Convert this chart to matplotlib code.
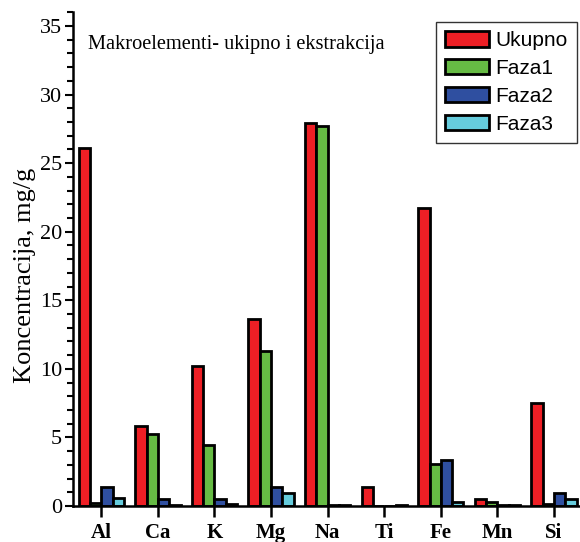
import numpy as np
import matplotlib
matplotlib.use("Agg")
import matplotlib.pyplot as plt
from matplotlib.ticker import MultipleLocator

# concentrations, mg/g
elements = ["Al", "Ca", "K", "Mg", "Na", "Ti", "Fe", "Mn", "Si"]
ukupno = [26.1, 5.8, 10.2, 13.6, 27.9, 1.36, 21.7, 0.49, 7.5]
faza1 = [0.2, 5.23, 4.47, 11.3, 27.7, 0.0, 3.09, 0.32, 0.15]
faza2 = [1.41, 0.49, 0.49, 1.41, 0.05, 0.0, 3.33, 0.05, 0.97]
faza3 = [0.56, 0.05, 0.15, 0.92, 0.05, 0.05, 0.32, 0.05, 0.49]

series = [("Ukupno", ukupno, "#ee1f25"),
          ("Faza1", faza1, "#66bb44"),
          ("Faza2", faza2, "#2f4fa0"),
          ("Faza3", faza3, "#66ccdd")]

W, H = 580, 542
fig = plt.figure(figsize=(W / 100, H / 100), dpi=100)
ax = fig.add_axes([73 / W, 36 / H, (582.3 - 73) / W, (506 - 12.3) / H])

x = np.arange(len(elements))
bw = 0.2
for i, (name, vals, col) in enumerate(series):
    ax.bar(x + (i - 1.5) * bw, vals, bw, color=col, edgecolor="black",
           linewidth=2.0, label=name)

ax.set_xlim(-0.5, 8.5)
ax.set_ylim(0, 36)
ax.yaxis.set_major_locator(MultipleLocator(5))
ax.yaxis.set_minor_locator(MultipleLocator(1))
ax.set_xticks(x)
ax.set_xticklabels(elements, fontfamily="Liberation Serif", fontweight="bold",
                   fontsize=15)
for lab in ax.get_yticklabels():
    lab.set_fontfamily("Liberation Serif")
    lab.set_fontsize(16)

ax.spines["top"].set_visible(False)
ax.spines["right"].set_visible(False)
ax.spines["left"].set_linewidth(1.8)
ax.spines["bottom"].set_linewidth(1.8)
ax.tick_params(axis="y", which="major", length=6, width=1.5, pad=2)
ax.tick_params(axis="y", which="minor", length=4, width=1.5)
ax.tick_params(axis="x", which="major", length=8, width=1.8, pad=4)

ax.set_ylabel("Koncentracija, mg/g", fontfamily="Liberation Serif",
              fontsize=19)
ax.yaxis.set_label_coords(-37 / (582.3 - 73), 0.468)
ax.text(88 / W, 1 - 45 / H, "Makroelementi- ukipno i ekstrakcija",
        transform=fig.transFigure, fontfamily="Liberation Serif", fontsize=14.7,
        va="center", ha="left")

leg = ax.legend(loc="upper right", bbox_to_anchor=(577 / W, 1 - 22 / H),
                bbox_transform=fig.transFigure, frameon=True, fancybox=False,
                edgecolor="black", handlelength=2.1, handleheight=0.75,
                handletextpad=0.3, labelspacing=0.42, borderpad=0.45,
                borderaxespad=0,
                prop={"family": "Liberation Sans", "size": 15})
leg.get_frame().set_linewidth(1.0)

fig.savefig("out.png", dpi=100)
